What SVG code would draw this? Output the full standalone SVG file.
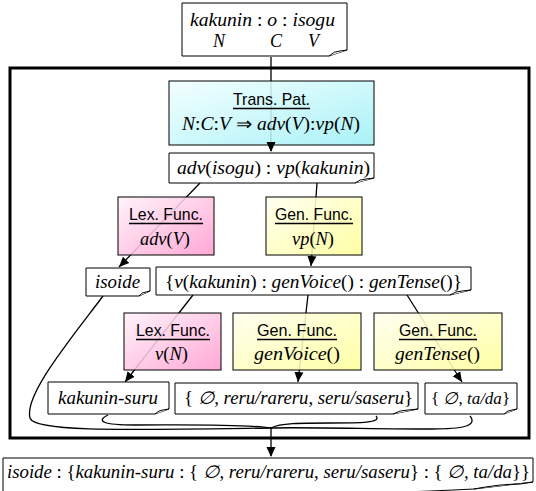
<svg xmlns="http://www.w3.org/2000/svg" width="536" height="491" viewBox="0 0 536 491">
  <style>
    .doc { fill: #ffffff; stroke: #000; stroke-width: 1; }
    .fold { fill: #ffffff; stroke: #000; stroke-width: 1; }
    .fn { stroke: #000; stroke-width: 1; fill-opacity: 0.88; }
    .frame { fill: none; stroke: #000; stroke-width: 3; }
    .m { font-family: "Liberation Serif", "Times New Roman", serif; font-style: italic; font-size: 18px; fill: #000; }
    .r { font-style: normal; }
    .hd { font-family: "Liberation Sans Narrow", "Liberation Sans", Arial, sans-serif; font-size: 17px; fill: #000; }
    .ul { stroke: #000; stroke-width: 1.4; }
    .c { fill: none; stroke: #000; stroke-width: 1.3; }
    .tip { fill: none; stroke: none; }
  </style>
  <defs>
    <linearGradient id="gCyan" x1="0" y1="0" x2="1" y2="1">
      <stop offset="0" stop-color="#f2ffff"/>
      <stop offset="1" stop-color="#9ef0f6"/>
    </linearGradient>
    <linearGradient id="gPink" x1="0" y1="0" x2="1" y2="1">
      <stop offset="0" stop-color="#fff2fa"/>
      <stop offset="1" stop-color="#ff9ccf"/>
    </linearGradient>
    <linearGradient id="gYellow" x1="0" y1="0" x2="1" y2="1">
      <stop offset="0" stop-color="#ffffef"/>
      <stop offset="1" stop-color="#ffff99"/>
    </linearGradient>
    <marker id="arr" markerUnits="userSpaceOnUse" markerWidth="12" markerHeight="12" viewBox="0 0 12 12" refX="10" refY="6" orient="auto">
      <path d="M0,1.5 L10,6 L0,10.5 Z" fill="#000"/>
    </marker>
  </defs>

  <!-- outer frame -->
  <rect class="frame" x="10" y="68" width="519" height="370"/>

  <!-- connectors (lines run beneath the boxes) -->
  <g id="connectors">
    <path class="c" d="M271,57 V151"/>
    <path class="c" d="M200,183 L119,267"/>
    <path class="c" d="M317,183 L311,266"/>
    <path class="c" d="M193,295 L125,382"/>
    <path class="c" d="M308,295 L298,382"/>
    <path class="c" d="M407,295 L462,382"/>
    <!-- brace gathering the results -->
    <path class="c" d="M103,296 C70,340 24,395 30,418 C34,432 120,430 271,428"/>
    <path class="c" d="M108,415 C96,421 102,425 135,425 C190,425 245,424 271,428"/>
    <path class="c" d="M376,416 C382,423 360,423 330,423 C300,423 280,423 271,428"/>
    <path class="c" d="M470,416 C478,426 462,429 432,429 C380,429 300,427 271,428"/>
    <path class="c" d="M271,428 V456"/>
  </g>

  <!-- input expression -->
  <g id="input">
    <path class="doc" d="M182,3 H347 V50 L329,56 H182 Z"/>
    <path class="fold" d="M329,56 Q334,51 340,51 L347,50"/>
    <text class="m" x="190" y="26" textLength="145" lengthAdjust="spacingAndGlyphs">kakunin<tspan class="r"> : </tspan>o<tspan class="r"> : </tspan>isogu</text>
    <text class="m" x="213" y="47">N</text>
    <text class="m" x="270" y="47">C</text>
    <text class="m" x="308" y="47">V</text>
  </g>

  <!-- translation pattern -->
  <g id="transPat">
    <rect class="fn" x="169" y="81" width="205" height="64" fill="url(#gCyan)"/>
    <text class="hd" x="233" y="105" textLength="77" lengthAdjust="spacingAndGlyphs">Trans. Pat.</text>
    <line class="ul" x1="233" y1="108.5" x2="310" y2="108.5"/>
    <text class="m" x="182" y="130" textLength="178" lengthAdjust="spacingAndGlyphs">N<tspan class="r">:</tspan>C<tspan class="r">:</tspan>V<tspan class="r"> ⇒ </tspan>adv<tspan class="r">(</tspan>V<tspan class="r">):</tspan>vp<tspan class="r">(</tspan>N<tspan class="r">)</tspan></text>
  </g>

  <!-- pattern applied -->
  <g id="applied">
    <path class="doc" d="M169,153 H374 V178 L355,183 H169 Z"/>
    <path class="fold" d="M355,183 Q360,179 366,179 L374,178"/>
    <text class="m" x="177" y="174" textLength="193" lengthAdjust="spacingAndGlyphs">adv<tspan class="r">(</tspan>isogu<tspan class="r">) : </tspan>vp<tspan class="r">(</tspan>kakunin<tspan class="r">)</tspan></text>
  </g>

  <!-- lexical function adv(V) -->
  <g id="lexAdv">
    <rect class="fn" x="118" y="197" width="96" height="58" fill="url(#gPink)"/>
    <text class="hd" x="129" y="220" textLength="74" lengthAdjust="spacingAndGlyphs">Lex. Func.</text>
    <line class="ul" x1="129" y1="223.5" x2="203" y2="223.5"/>
    <text class="m" x="140" y="245" textLength="50" lengthAdjust="spacingAndGlyphs">adv<tspan class="r">(</tspan>V<tspan class="r">)</tspan></text>
  </g>

  <!-- generation function vp(N) -->
  <g id="genVp">
    <rect class="fn" x="266" y="197" width="96" height="58" fill="url(#gYellow)"/>
    <text class="hd" x="275" y="220" textLength="78" lengthAdjust="spacingAndGlyphs">Gen. Func.</text>
    <line class="ul" x1="275" y1="223.5" x2="353" y2="223.5"/>
    <text class="m" x="292" y="245" textLength="42" lengthAdjust="spacingAndGlyphs">vp<tspan class="r">(</tspan>N<tspan class="r">)</tspan></text>
  </g>

  <!-- isoide -->
  <g id="isoide">
    <path class="doc" d="M86,268 H150 V291 L139,296 H86 Z"/>
    <path class="fold" d="M139,296 Q142,292 146,292 L150,291"/>
    <text class="m" x="95" y="288" textLength="45" lengthAdjust="spacingAndGlyphs">isoide</text>
  </g>

  <!-- vp expansion -->
  <g id="vpExpansion">
    <path class="doc" d="M156,267 H471 V290 L450,295 H156 Z"/>
    <path class="fold" d="M450,295 Q456,291 462,291 L471,290"/>
    <text class="m" x="165" y="288" textLength="297" lengthAdjust="spacingAndGlyphs"><tspan class="r">{</tspan>v<tspan class="r">(</tspan>kakunin<tspan class="r">) : </tspan>genVoice<tspan class="r">() : </tspan>genTense<tspan class="r">()}</tspan></text>
  </g>

  <!-- lexical function v(N) -->
  <g id="lexV">
    <rect class="fn" x="124" y="313" width="97" height="57" fill="url(#gPink)"/>
    <text class="hd" x="136" y="336" textLength="74" lengthAdjust="spacingAndGlyphs">Lex. Func.</text>
    <line class="ul" x1="136" y1="339.5" x2="210" y2="339.5"/>
    <text class="m" x="155" y="360" textLength="33" lengthAdjust="spacingAndGlyphs">v<tspan class="r">(</tspan>N<tspan class="r">)</tspan></text>
  </g>

  <!-- generation function genVoice() -->
  <g id="genVoice">
    <rect class="fn" x="233" y="313" width="128" height="57" fill="url(#gYellow)"/>
    <text class="hd" x="257" y="336" textLength="80" lengthAdjust="spacingAndGlyphs">Gen. Func.</text>
    <line class="ul" x1="257" y1="339.5" x2="337" y2="339.5"/>
    <text class="m" x="254" y="360" textLength="86" lengthAdjust="spacingAndGlyphs">genVoice<tspan class="r">()</tspan></text>
  </g>

  <!-- generation function genTense() -->
  <g id="genTense">
    <rect class="fn" x="374" y="313" width="128" height="57" fill="url(#gYellow)"/>
    <text class="hd" x="399" y="336" textLength="78" lengthAdjust="spacingAndGlyphs">Gen. Func.</text>
    <line class="ul" x1="399" y1="339.5" x2="477" y2="339.5"/>
    <text class="m" x="395" y="360" textLength="85" lengthAdjust="spacingAndGlyphs">genTense<tspan class="r">()</tspan></text>
  </g>

  <!-- kakunin-suru -->
  <g id="kakuninSuru">
    <path class="doc" d="M48,382 H169 V409 L155,414 H48 Z"/>
    <path class="fold" d="M155,414 Q159,410 163,410 L169,409"/>
    <text class="m" x="58" y="404" textLength="100" lengthAdjust="spacingAndGlyphs">kakunin-suru</text>
  </g>

  <!-- voice forms -->
  <g id="voiceForms">
    <path class="doc" d="M175,383 H418 V409 L393,414 H175 Z"/>
    <path class="fold" d="M393,414 Q400,410 408,410 L418,409"/>
    <text class="m" x="184" y="404" textLength="229" lengthAdjust="spacingAndGlyphs"><tspan class="r">{ </tspan>∅<tspan class="r">, </tspan>reru/rareru<tspan class="r">, </tspan>seru/saseru<tspan class="r">}</tspan></text>
  </g>

  <!-- tense forms -->
  <g id="tenseForms">
    <path class="doc" d="M425,383 H517 V409 L504,414 H425 Z"/>
    <path class="fold" d="M504,414 Q508,410 512,410 L517,409"/>
    <text class="m" x="431" y="404" style="font-size:17px"><tspan class="r">{ </tspan>∅<tspan class="r">, </tspan>ta/da<tspan class="r">}</tspan></text>
  </g>

  <!-- final output -->
  <g id="output">
    <path class="doc" d="M3,458 H533 V482 L474,489 Q300,498 3,496 Z"/>
    <path class="fold" d="M474,489 Q500,484 520,484 L533,482"/>
    <text class="m" x="7" y="478" textLength="523" lengthAdjust="spacingAndGlyphs">isoide<tspan class="r"> : {</tspan>kakunin-suru<tspan class="r"> : { </tspan>∅<tspan class="r">, </tspan>reru/rareru<tspan class="r">, </tspan>seru/saseru<tspan class="r">} : { </tspan>∅<tspan class="r">, </tspan>ta/da<tspan class="r">}}</tspan></text>
  </g>

  <!-- arrowheads, drawn above the boxes -->
  <g id="arrowheads">
    <path class="tip" d="M271,141 V152" marker-end="url(#arr)"/>
    <path class="tip" d="M127,259 L119,267" marker-end="url(#arr)"/>
    <path class="tip" d="M312,255 L311,266" marker-end="url(#arr)"/>
    <path class="tip" d="M132,373 L125,382" marker-end="url(#arr)"/>
    <path class="tip" d="M299,371 L298,382" marker-end="url(#arr)"/>
    <path class="tip" d="M456,373 L462,382" marker-end="url(#arr)"/>
    <path class="tip" d="M271,445 V457" marker-end="url(#arr)"/>
  </g>
</svg>
